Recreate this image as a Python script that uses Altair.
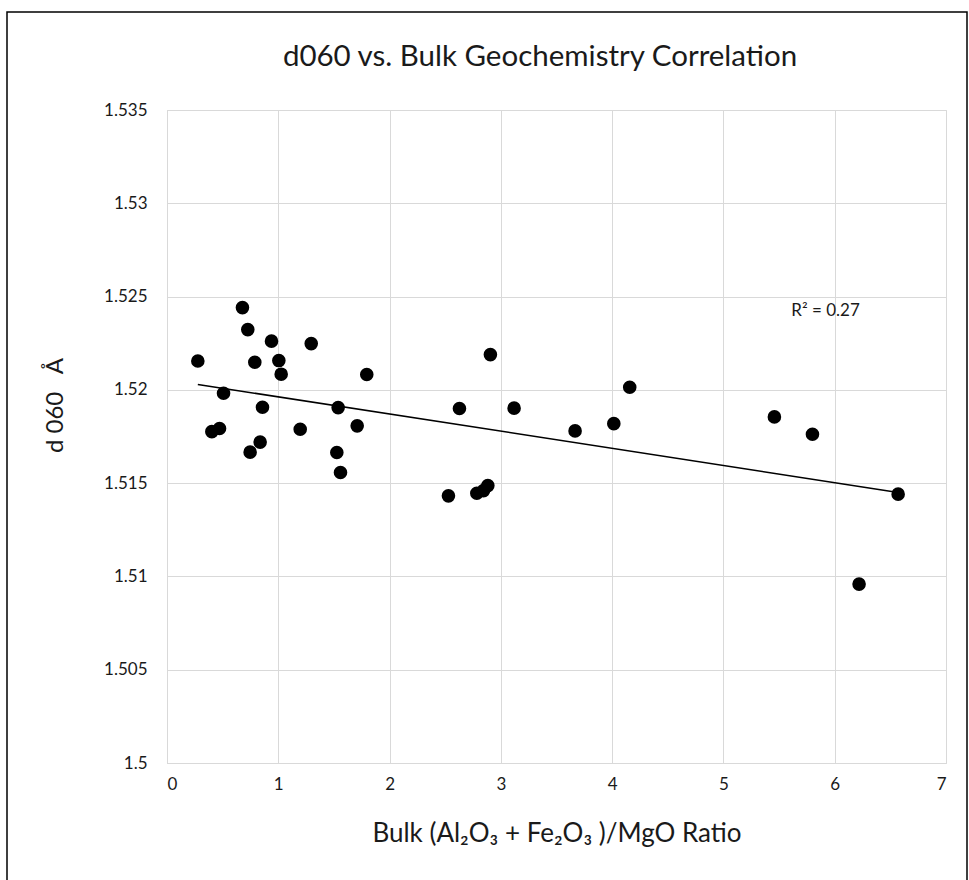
import altair as alt
import pandas as pd

ratio = [0.277, 0.678, 0.726, 0.939, 1.296, 0.789, 1.005, 1.026, 1.795, 0.508,
         0.858, 1.538, 0.403, 0.472, 1.197, 1.709, 0.837, 0.747, 1.526, 1.559,
         2.628, 2.906, 3.119, 3.667, 4.015, 4.158, 5.458, 5.800, 6.570, 6.219,
         2.529, 2.784, 2.844, 2.883]
d060 = [1.52155, 1.52441, 1.52323, 1.52261, 1.52248, 1.52148, 1.52157, 1.52084, 1.52082, 1.51982,
        1.51907, 1.51905, 1.51776, 1.51793, 1.51789, 1.51807, 1.51720, 1.51666, 1.51664, 1.51557,
        1.51900, 1.52189, 1.51902, 1.51780, 1.51819, 1.52014, 1.51855, 1.51762, 1.51441, 1.50959,
        1.51432, 1.51446, 1.51460, 1.51487]

x_ticks = [0, 1, 2, 3, 4, 5, 6, 7]
y_ticks = [1.5, 1.505, 1.51, 1.515, 1.52, 1.525, 1.53, 1.535]
r2_text = ["R² = 0.27"]
r2_x = [5.61]
r2_y = [1.5242]
title_text = ["d060 vs. Bulk Geochemistry Correlation"]

df = pd.DataFrame({"x": ratio, "y": d060})
ann = pd.DataFrame({"x": r2_x, "y": r2_y, "t": r2_text})
ttl = pd.DataFrame({"t": title_text})

FONT = "Lato"
W, H = 779, 653
PL, PT = 167, 110
TXT = "#1a1a1a"

xscale = alt.Scale(domain=[0, 7], nice=False, zero=False)
yscale = alt.Scale(domain=[1.5, 1.535], nice=False, zero=False)

xaxis = alt.Axis(values=x_ticks, grid=True, gridColor="#d9d9d9", domainColor="#d9d9d9",
                 ticks=False, labelFont=FONT, labelFontSize=17, labelColor=TXT,
                 labelPadding=13, format="~g", title="Bulk (Al₂O₃ + Fe₂O₃ )/MgO Ratio",
                 titleFont=FONT, titleFontSize=26, titleFontWeight="normal",
                 titleColor=TXT, titleX=W / 2, titleY=70, titleBaseline="middle")
yaxis = alt.Axis(values=y_ticks, grid=True, gridColor="#d9d9d9", domainColor="#d9d9d9",
                 ticks=False, labelFont=FONT, labelFontSize=17, labelColor=TXT,
                 labelPadding=20, format="~g", title="d 060\u00a0\u00a0\u00a0Å",
                 titleFont=FONT, titleFontSize=24, titleFontWeight="normal",
                 titleColor=TXT, titleX=-112, titleY=295, titleBaseline="middle")

base = alt.Chart(df)

frame = base.mark_rect(fill=None, stroke="black", strokeWidth=1.5).encode(
    x=alt.value(7 - PL), x2=alt.value(967 - PL),
    y=alt.value(12 - PT), y2=alt.value(895 - PT)
).transform_filter("datum.x == 0.277")

points = base.mark_circle(size=185, color="black", opacity=1).encode(
    x=alt.X("x:Q", scale=xscale, axis=xaxis),
    y=alt.Y("y:Q", scale=yscale, axis=yaxis),
)

trend = base.transform_regression("x", "y").mark_line(color="black", strokeWidth=1.5).encode(
    x=alt.X("x:Q", scale=xscale),
    y=alt.Y("y:Q", scale=yscale),
)

label = alt.Chart(ann).mark_text(align="left", baseline="middle", font=FONT, fontSize=17,
                                 color=TXT).encode(
    x=alt.X("x:Q", scale=xscale), y=alt.Y("y:Q", scale=yscale), text="t:N")

title = alt.Chart(ttl).mark_text(align="center", baseline="middle", font=FONT, fontSize=29.5,
                                 color=TXT).encode(
    x=alt.value(540 - PL), y=alt.value(57 - PT), text="t:N")

chart = alt.layer(frame, points, trend, label, title).properties(
    width=W, height=H,
    autosize=alt.AutoSizeParams(type="none"),
    padding={"left": PL, "top": PT, "right": 969 - PL - W, "bottom": 880 - PT - H},
).configure_view(stroke=None).configure(background="white")

chart.save("out.html", embed_options={"renderer": "svg", "actions": False})
